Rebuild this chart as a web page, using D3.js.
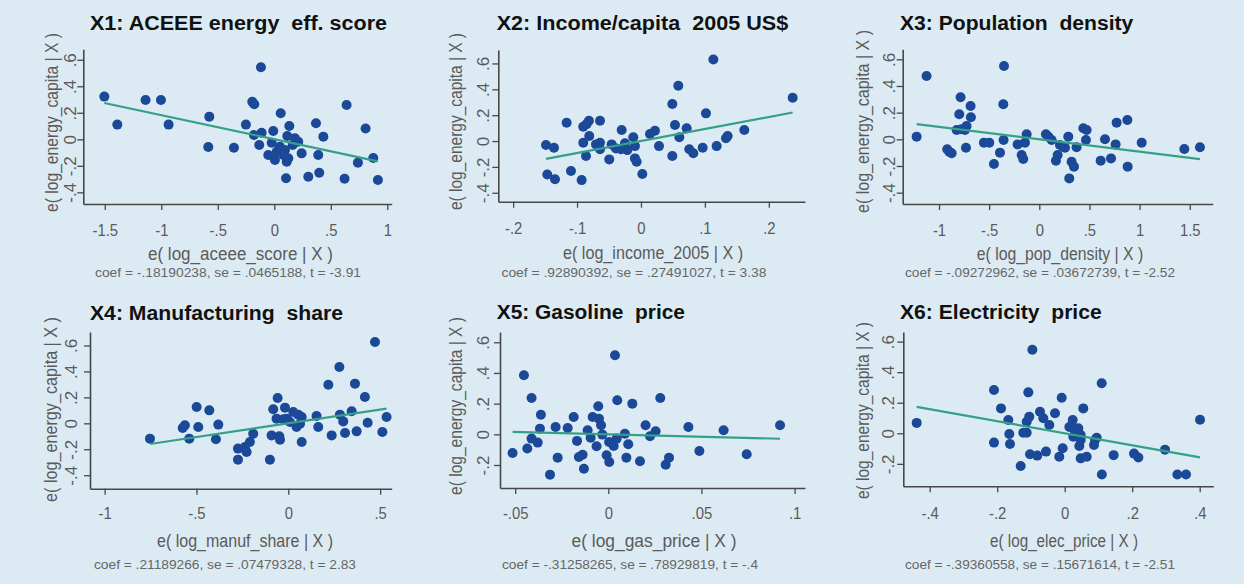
<!DOCTYPE html>
<html>
<head>
<meta charset="utf-8">
<script src="https://cdn.jsdelivr.net/npm/d3@7"></script>
<style>
  html, body { margin: 0; padding: 0; background: #dcebf3; }
  svg { display: block; }
  text { font-family: "Liberation Sans", Arial, Helvetica, sans-serif; }
</style>
</head>
<body>
<svg id="chart" width="1244" height="584"></svg>
<script>
// ---- Added-variable plots: residual of log energy per capita vs each regressor ----

const panelTitles = [
  "X1: ACEEE energy  eff. score",
  "X2: Income/capita  2005 US$",
  "X3: Population  density",
  "X4: Manufacturing  share",
  "X5: Gasoline  price",
  "X6: Electricity  price"
];
const yTitle = "e( log_energy_capita | X )";
const xTitles = [
  "e( log_aceee_score | X )",
  "e( log_income_2005 | X )",
  "e( log_pop_density | X )",
  "e( log_manuf_share | X )",
  "e( log_gas_price | X )",
  "e( log_elec_price | X )"
];
const coefs = [-0.18190238, 0.92890392, -0.09272962, 0.21189266, -0.31258265, -0.39360558];
const coefNotes = [
  "coef = -.18190238, se = .0465188, t = -3.91",
  "coef = .92890392, se = .27491027, t = 3.38",
  "coef = -.09272962, se = .03672739, t = -2.52",
  "coef = .21189266, se = .07479328, t = 2.83",
  "coef = -.31258265, se = .78929819, t = -.4",
  "coef = -.39360558, se = .15671614, t = -2.51"
];

const xTickValues = [
  [-1.5, -1, -0.5, 0, 0.5, 1],
  [-0.2, -0.1, 0, 0.1, 0.2],
  [-1, -0.5, 0, 0.5, 1, 1.5],
  [-1, -0.5, 0, 0.5],
  [-0.05, 0, 0.05, 0.1],
  [-0.4, -0.2, 0, 0.2, 0.4]
];
const xTickLabels = [
  ["-1.5", "-1", "-.5", "0", ".5", "1"],
  ["-.2", "-.1", "0", ".1", ".2"],
  ["-1", "-.5", "0", ".5", "1", "1.5"],
  ["-1", "-.5", "0", ".5"],
  ["-.05", "0", ".05", ".1"],
  ["-.4", "-.2", "0", ".2", ".4"]
];
const yTickValues = [
  [-0.4, -0.2, 0, 0.2, 0.4, 0.6],
  [-0.4, -0.2, 0, 0.2, 0.4, 0.6],
  [-0.4, -0.2, 0, 0.2, 0.4, 0.6],
  [-0.4, -0.2, 0, 0.2, 0.4, 0.6],
  [-0.2, 0, 0.2, 0.4, 0.6],
  [-0.2, 0, 0.2, 0.4, 0.6]
];
const yTickLabelsFull = ["-.4", "-.2", "0", ".2", ".4", ".6"];
const yTickLabelsShort = ["-.2", "0", ".2", ".4", ".6"];

// residual pairs [e(x|X), e(y|X)] for each regressor
const aceee = [
  [-1.504,0.322],[-1.389,0.111],[-1.139,0.297],[-1.003,0.297],[-0.935,0.111],[-0.575,0.171],
  [-0.584,-0.058],[-0.357,-0.063],[-0.251,0.111],[-0.195,0.284],[-0.177,0.264],[-0.118,0.543],
  [-0.180,0.032],[-0.112,0.050],[-0.133,-0.043],[-0.009,0.063],[0.057,0.196],[0.133,0.100],
  [0.369,0.121],[0.434,0.020],[-0.053,-0.118],[0.006,-0.156],[-0.023,-0.026],[0.050,-0.056],
  [0.095,-0.081],[0.080,-0.118],[0.124,-0.143],[0.110,-0.169],[0.115,0.025],[0.183,0.008],
  [0.212,-0.018],[0.242,-0.106],[0.163,-0.043],[0.389,-0.118],[0.104,-0.294],[0.301,-0.282],
  [0.398,-0.252],[0.021,-0.094],[0.065,-0.093],[0.622,-0.297],[0.640,0.259],[0.740,-0.176],
  [0.808,0.081],[0.876,-0.141],[0.917,-0.307]
];
const income = [
  [-0.1486,-0.031],[-0.1361,-0.052],[-0.1466,-0.258],[-0.1345,-0.296],[-0.1163,0.142],[-0.1095,-0.232],
  [-0.0928,-0.302],[-0.0903,0.111],[-0.0850,0.131],[-0.0814,0.157],[-0.0641,0.157],[-0.0809,0.039],
  [-0.0903,-0.013],[-0.0860,-0.116],[-0.0704,-0.026],[-0.0641,-0.013],[-0.0641,-0.064],[-0.0496,-0.142],
  [-0.0459,-0.026],[-0.0391,-0.057],[-0.0302,0.085],[-0.0313,-0.064],[-0.0250,-0.018],[-0.0214,-0.070],
  [-0.0120,0.029],[-0.0094,-0.039],[-0.0094,-0.134],[-0.0068,-0.160],[0.0021,-0.255],[0.0141,0.054],
  [0.0219,0.080],[0.0282,-0.039],[0.0490,0.286],[0.0490,-0.116],[0.0532,0.124],[0.0584,0.428],
  [0.0600,0.029],[0.0715,0.098],[0.0756,-0.064],[0.0819,-0.095],[0.0965,-0.052],[0.1017,0.214],
  [0.1132,0.631],[0.1184,-0.039],[0.1330,0.021],[0.1356,0.039],[0.1617,0.085],[0.2373,0.335]
];
const popDensity = [
  [-1.223,0.020],[-1.124,0.475],[-0.918,-0.075],[-0.898,-0.093],[-0.874,-0.105],[-0.824,0.070],
  [-0.798,0.188],[-0.785,0.315],[-0.775,0.075],[-0.741,0.070],[-0.731,-0.063],[-0.725,0.100],
  [-0.685,0.250],[-0.682,0.165],[-0.552,-0.025],[-0.499,-0.025],[-0.452,-0.185],[-0.392,-0.100],
  [-0.359,0.263],[-0.356,-0.005],[-0.352,0.550],[-0.216,-0.038],[-0.176,-0.118],[-0.160,-0.148],
  [-0.143,-0.025],[-0.126,0.038],[0.066,0.038],[0.090,0.020],[0.123,-0.005],[0.166,-0.160],
  [0.183,-0.118],[0.206,-0.043],[0.239,-0.055],[0.256,-0.063],[0.289,0.020],[0.299,-0.293],
  [0.322,-0.168],[0.346,-0.205],[0.372,-0.060],[0.439,0.083],[0.472,0.070],[0.465,-0.005],
  [0.612,-0.160],[0.655,0.000],[0.715,-0.143],[0.761,-0.038],[0.771,0.125],[0.878,0.145],
  [0.881,-0.205],[1.021,-0.025],[1.446,-0.073],[1.602,-0.060]
];
const manufShare = [
  [-0.753,-0.118],[-0.575,-0.036],[-0.563,-0.015],[-0.539,-0.118],[-0.499,0.126],[-0.490,-0.028],
  [-0.430,0.100],[-0.394,-0.123],[-0.381,-0.010],[-0.274,-0.195],[-0.274,-0.280],[-0.236,-0.183],
  [-0.227,-0.221],[-0.209,-0.144],[-0.191,-0.080],[-0.100,-0.280],[-0.091,-0.093],[-0.082,0.108],
  [-0.058,0.195],[-0.064,0.036],[-0.045,-0.126],[-0.049,-0.100],[-0.018,0.121],[-0.027,0.031],
  [-0.009,0.036],[0.027,0.087],[0.054,0.067],[0.045,-0.028],[0.064,-0.003],[0.073,0.049],
  [0.073,-0.144],[0.154,0.057],[0.163,-0.028],[0.218,0.298],[0.236,-0.093],[0.278,0.434],
  [0.281,0.067],[0.299,0.015],[0.309,-0.075],[0.345,0.093],[0.363,0.306],[0.372,-0.062],
  [0.417,0.203],[0.432,0.005],[0.472,0.627],[0.512,-0.067],[0.535,0.049],[0.009,0.010]
];
const gasPrice = [
  [-0.0514,-0.122],[-0.0453,0.385],[-0.0435,-0.093],[-0.0412,0.237],[-0.0412,-0.028],[-0.0379,-0.054],
  [-0.0362,0.128],[-0.0367,0.037],[-0.0313,-0.263],[-0.0283,0.048],[-0.0272,-0.152],[-0.0218,0.041],
  [-0.0186,0.113],[-0.0168,-0.043],[-0.0158,-0.148],[-0.0138,-0.133],[-0.0131,-0.224],[-0.0111,0.026],
  [-0.0095,-0.022],[-0.0084,0.113],[-0.0063,-0.078],[-0.0054,0.183],[-0.0050,0.102],[-0.0039,0.059],
  [-0.0032,-0.002],[-0.0009,-0.137],[0.0004,-0.050],[0.0005,-0.180],[0.0029,-0.076],[0.0036,0.515],
  [0.0045,-0.028],[0.0048,0.222],[0.0089,0.004],[0.0097,-0.152],[0.0107,-0.065],[0.0129,0.200],
  [0.0170,-0.176],[0.0200,0.059],[0.0224,-0.013],[0.0254,0.020],[0.0279,0.237],[0.0308,-0.198],
  [0.0326,-0.152],[0.0430,0.048],[0.0489,-0.109],[0.0619,0.026],[0.0743,-0.130],[0.0922,0.059]
];
const elecPrice = [
  [-0.4385,0.068],[-0.2095,0.283],[-0.2095,-0.061],[-0.1887,0.163],[-0.1671,0.087],[-0.1641,-0.005],
  [-0.1621,-0.070],[-0.1304,-0.214],[-0.1227,0.004],[-0.1126,0.004],[-0.1126,0.076],[-0.1078,0.268],
  [-0.1049,0.109],[-0.1028,-0.137],[-0.0958,0.547],[-0.0812,-0.146],[-0.0732,0.141],[-0.0634,0.098],
  [-0.0554,-0.120],[-0.0456,0.054],[-0.0287,0.131],[-0.0160,-0.153],[-0.0089,0.233],[-0.0059,-0.098],
  [0.0138,0.041],[0.0207,0.043],[0.0237,0.087],[0.0255,-0.022],[0.0306,0.013],[0.0403,0.033],
  [0.0433,-0.083],[0.0474,-0.011],[0.0474,-0.044],[0.0474,-0.164],[0.0551,0.163],[0.0652,-0.153],
  [0.0868,-0.077],[0.0898,-0.044],[0.0948,-0.029],[0.1096,0.327],[0.1101,-0.270],[0.1450,-0.143],
  [0.2054,-0.133],[0.2183,-0.159],[0.2973,-0.107],[0.3338,-0.270],[0.3595,-0.270],[0.4010,0.089]
];
const seriesList = [aceee, income, popDensity, manufShare, gasPrice, elecPrice];

// ---- panel placement (pixels) and axis extents ----
const layout = [
  { left: 83.3, right: 391.7, top: 49.3, bottom: 204, xDom: [-1.690, 1.039], yDom: [-0.488, 0.679],
    titleX: 90, titleY: 29.5, titleW: 297, yTitleX: 58, yTitleY: 122.5, yTitleW: 179, yTickX: 76,
    xTickY: 236, xTitleX: 240.5, xTitleY: 259.5, xTitleW: 185, noteX: 228, noteY: 276.5, noteW: 266 },
  { left: 498.3, right: 805, top: 50, bottom: 201.7, xDom: [-0.2232, 0.2566], yDom: [-0.469, 0.704],
    titleX: 496.7, titleY: 29.5, titleW: 291.6, yTitleX: 462, yTitleY: 121.5, yTitleW: 177, yTickX: 489,
    xTickY: 234, xTitleX: 653, xTitleY: 259, xTitleW: 180, noteX: 634, noteY: 276.5, noteW: 265 },
  { left: 902.7, right: 1212.7, top: 49.3, bottom: 204, xDom: [-1.362, 1.729], yDom: [-0.485, 0.675],
    titleX: 900, titleY: 29.5, titleW: 233.3, yTitleX: 869, yTitleY: 121.5, yTitleW: 183, yTickX: 895,
    xTickY: 236, xTitleX: 1060, xTitleY: 260, xTitleW: 166.6, noteX: 1040, noteY: 276.5, noteW: 270 },
  { left: 90, right: 391.7, top: 332, bottom: 488.7, xDom: [-1.0795, 0.5629], yDom: [-0.504, 0.704],
    titleX: 90, titleY: 320.3, titleW: 253, yTitleX: 57, yTitleY: 409.5, yTitleW: 185, yTickX: 77,
    xTickY: 519, xTitleX: 245, xTitleY: 547, xTitleW: 176, noteX: 225, noteY: 568.5, noteW: 262 },
  { left: 500, right: 805, top: 332, bottom: 488, xDom: [-0.05815, 0.1056], yDom: [-0.350, 0.667],
    titleX: 496.7, titleY: 319, titleW: 188.3, yTitleX: 462, yTitleY: 406, yTitleW: 178, yTickX: 489,
    xTickY: 519, xTitleX: 654, xTitleY: 547, xTitleW: 165, noteX: 630, noteY: 568.5, noteW: 256 },
  { left: 903.3, right: 1213.3, top: 332, bottom: 486.3, xDom: [-0.4782, 0.4403], yDom: [-0.347, 0.663],
    titleX: 900, titleY: 319, titleW: 201.7, yTitleX: 869, yTitleY: 410.5, yTitleW: 177, yTickX: 894,
    xTickY: 519, xTitleX: 1064, xTitleY: 547, xTitleW: 148, noteX: 1040, noteY: 568.5, noteW: 270 }
];

const COLORS = {
  bg: "#dcebf3",
  dot: "#1c4898",
  fit: "#35a088",
  axis: "#474747",
  tickText: "#5a5a5a",
  axisTitle: "#5a5a5a",
  note: "#666666",
  title: "#111111"
};

const svg = d3.select("#chart");
svg.append("rect").attr("width", 1244).attr("height", 584).attr("fill", COLORS.bg);

seriesList.forEach((data, i) => {
  const L = layout[i];
  const g = svg.append("g").attr("class", "panel");

  const x = d3.scaleLinear().domain(L.xDom).range([L.left, L.right]);
  const y = d3.scaleLinear().domain(L.yDom).range([L.bottom, L.top]);

  // panel title
  g.append("text")
    .attr("x", L.titleX).attr("y", L.titleY)
    .attr("textLength", L.titleW).attr("lengthAdjust", "spacingAndGlyphs")
    .style("white-space", "pre")
    .attr("font-size", 20).attr("font-weight", "bold").attr("fill", COLORS.title)
    .text(panelTitles[i]);

  // x axis
  const xAxis = d3.axisBottom(x)
    .tickValues(xTickValues[i])
    .tickFormat((d, k) => xTickLabels[i][k])
    .tickSizeInner(6).tickSizeOuter(0);
  const gx = g.append("g").attr("transform", `translate(0,${L.bottom})`).call(xAxis);
  gx.select(".domain").attr("stroke", COLORS.axis).attr("stroke-width", 1.6);
  gx.selectAll(".tick line").attr("stroke", COLORS.axis).attr("stroke-width", 1.3);
  gx.selectAll(".tick text")
    .attr("y", L.xTickY - L.bottom).attr("dy", 0)
    .attr("font-size", 16.5).attr("fill", COLORS.tickText)
    .attr("transform", "scale(0.9,1)");

  // y axis with vertical tick labels
  const yLabels = yTickValues[i].length === 6 ? yTickLabelsFull : yTickLabelsShort;
  const yAxis = d3.axisLeft(y)
    .tickValues(yTickValues[i])
    .tickFormat((d, k) => yLabels[k])
    .tickSizeInner(6).tickSizeOuter(0);
  const gy = g.append("g").attr("transform", `translate(${L.left},0)`).call(yAxis);
  gy.select(".domain").attr("stroke", COLORS.axis).attr("stroke-width", 1.6);
  gy.selectAll(".tick line").attr("stroke", COLORS.axis).attr("stroke-width", 1.3);
  gy.selectAll(".tick text")
    .attr("x", 0).attr("dy", 0)
    .attr("text-anchor", "middle")
    .attr("transform", `translate(${L.yTickX - L.left},0) rotate(-90)`)
    .attr("font-size", 17).attr("fill", COLORS.tickText);

  // axis titles
  g.append("text")
    .attr("transform", `translate(${L.yTitleX},${L.yTitleY}) rotate(-90)`)
    .attr("text-anchor", "middle")
    .attr("textLength", L.yTitleW).attr("lengthAdjust", "spacingAndGlyphs")
    .attr("font-size", 18).attr("fill", COLORS.axisTitle)
    .text(yTitle);
  g.append("text")
    .attr("x", L.xTitleX).attr("y", L.xTitleY)
    .attr("text-anchor", "middle")
    .attr("textLength", L.xTitleW).attr("lengthAdjust", "spacingAndGlyphs")
    .attr("font-size", 17.5).attr("fill", COLORS.axisTitle)
    .text(xTitles[i]);

  // points
  g.append("g").selectAll("circle")
    .data(data)
    .join("circle")
    .attr("cx", d => x(d[0]))
    .attr("cy", d => y(d[1]))
    .attr("r", 5)
    .attr("fill", COLORS.dot);

  // fitted line through the origin with slope = coef
  const xExt = d3.extent(data, d => d[0]);
  const line = d3.line().x(d => x(d)).y(d => y(coefs[i] * d));
  g.append("path")
    .datum(xExt)
    .attr("d", line)
    .attr("fill", "none")
    .attr("stroke", COLORS.fit)
    .attr("stroke-width", 2.2);

  // regression note
  g.append("text")
    .attr("x", L.noteX).attr("y", L.noteY)
    .attr("text-anchor", "middle")
    .attr("textLength", L.noteW).attr("lengthAdjust", "spacingAndGlyphs")
    .attr("font-size", 13).attr("fill", COLORS.note)
    .text(coefNotes[i]);
});
</script>
</body>
</html>
